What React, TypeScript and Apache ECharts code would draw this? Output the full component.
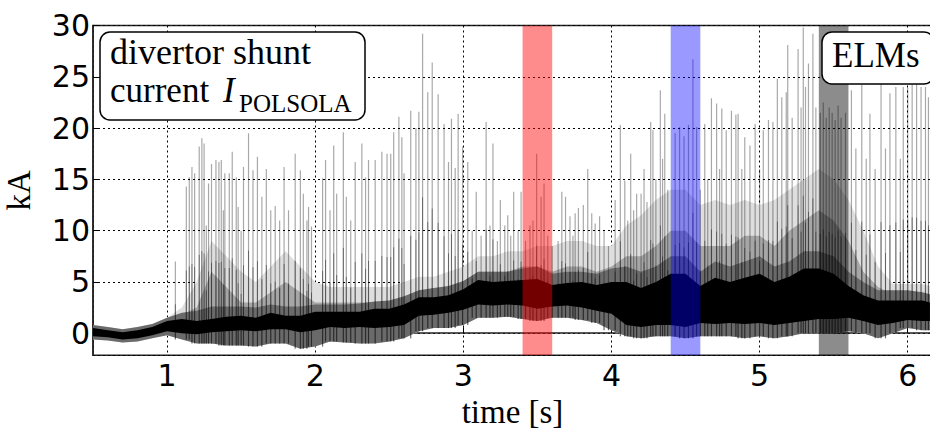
import React, { useEffect, useRef } from "react";
import * as echarts from "echarts";

// time grid for the envelope of the dense baseline signal [s]
const bandTimes = [
  0.5, 0.6, 0.7, 0.8, 0.9, 1.0, 1.1, 1.2, 1.3, 1.4, 1.5, 1.6, 1.7, 1.8, 1.9, 2.0,
  2.1, 2.2, 2.3, 2.4, 2.5, 2.6, 2.7, 2.8, 2.9, 3.0, 3.1, 3.2, 3.3, 3.4, 3.5, 3.6,
  3.7, 3.8, 3.9, 4.0, 4.1, 4.2, 4.3, 4.4, 4.5, 4.6, 4.7, 4.8, 4.9, 5.0, 5.1, 5.2,
  5.3, 5.4, 5.5, 5.6, 5.7, 5.8, 5.9, 6.0, 6.1, 6.15,
];
// dense black band (kA)
const bandLow = [
  -0.3, -0.4, -0.6, -0.5, -0.2, 0.2, 0.0, -0.1, 0.1, 0.2, 0.3, 0.2, 0.4, 0.4, 0.1, 0.3,
  0.6, 0.5, 0.6, 0.5, 0.6, 0.8, 1.7, 1.8, 2.0, 2.3, 2.8, 2.7, 2.8, 2.7, 2.4, 2.6,
  2.7, 2.5, 2.2, 1.9, 0.8, 0.6, 0.8, 0.8, 0.6, 1.0, 0.9, 1.0, 0.9, 1.0, 0.8, 1.0,
  1.2, 1.4, 1.4, 1.5, 1.2, 0.8, 1.0, 1.3, 1.2, 1.2,
];
const bandHigh = [
  0.5, 0.3, 0.1, 0.3, 0.6, 1.2, 1.4, 1.2, 1.4, 1.6, 1.7, 1.5, 2.0, 1.7, 1.7, 2.1,
  2.1, 2.1, 2.1, 2.4, 2.4, 2.8, 3.5, 3.5, 3.7, 4.3, 5.2, 5.0, 5.1, 5.2, 5.3, 4.7,
  4.9, 5.0, 4.7, 5.0, 5.0, 4.4, 5.0, 5.8, 5.8, 4.6, 5.4, 5.0, 5.4, 5.8, 5.0, 5.5,
  6.3, 6.3, 5.8, 4.6, 3.7, 3.2, 3.2, 3.2, 3.2, 3.0,
];
// grey noise fringe around the band (kA)
const outerLow = [
  -0.6, -0.7, -0.9, -0.8, -0.5, -0.2, -0.6, -1.0, -1.0, -1.2, -1.2, -1.3, -1.0, -1.0, -1.5, -1.3,
  -0.8, -0.9, -1.0, -1.0, -0.8, -0.5, 0.2, 0.5, 0.5, 0.8, 1.5, 1.5, 1.6, 1.4, 1.2, 1.5,
  1.5, 1.3, 1.0, 0.3, -0.3, -0.5, -0.3, -0.3, -0.5, -0.3, -0.3, -0.3, -0.5, -0.3, -0.5, -0.3,
  0.0, 0.0, 0.0, 0.2, 0.0, -0.5, 0.0, 0.5, 0.3, 0.3,
];
const outerHigh = [
  0.8, 0.6, 0.4, 0.6, 0.9, 1.5, 2.0, 2.2, 2.6, 2.6, 2.6, 2.5, 2.8, 2.6, 2.6, 2.8,
  2.8, 2.8, 2.9, 3.1, 3.2, 3.6, 4.2, 4.4, 4.6, 5.1, 6.0, 6.0, 6.0, 6.3, 6.5, 5.8,
  6.0, 6.0, 5.8, 6.3, 6.5, 6.0, 6.5, 7.5, 7.5, 6.0, 7.0, 6.5, 7.0, 7.5, 6.5, 7.0,
  8.0, 8.0, 7.5, 6.0, 5.0, 4.2, 4.2, 4.2, 4.0, 3.8,
];
// overlapping ELM traces: dark and light haze tops (kA)
const hazeDark = [
  0.5, 0.3, 0.1, 0.3, 0.6, 1.2, 1.8, 2.5, 6.0, 4.5, 3.0, 3.0, 4.0, 5.0, 4.0, 3.0,
  3.0, 3.0, 3.0, 3.0, 3.0, 3.5, 4.0, 4.0, 4.3, 5.0, 6.0, 6.0, 6.0, 6.5, 6.5, 6.0,
  6.5, 6.5, 6.0, 6.5, 7.5, 7.5, 8.5, 10.0, 10.0, 8.5, 8.5, 8.5, 9.5, 9.5, 8.5, 10.0,
  11.0, 12.0, 11.0, 9.0, 6.0, 4.5, 3.8, 3.8, 3.8, 3.6,
];
const hazeLight = [
  0.8, 0.6, 0.4, 0.6, 0.9, 1.5, 2.5, 5.0, 9.0, 7.5, 6.0, 5.0, 6.5, 8.0, 6.5, 5.0,
  4.5, 4.5, 4.5, 4.5, 4.5, 5.0, 5.5, 5.5, 6.0, 6.5, 7.5, 7.5, 8.0, 8.0, 8.5, 8.5,
  9.0, 9.0, 8.5, 8.5, 10.5, 11.5, 13.0, 14.0, 14.0, 12.5, 13.0, 12.5, 13.0, 12.5, 13.0, 14.0,
  15.0, 16.0, 15.0, 13.0, 10.0, 6.5, 4.8, 4.8, 4.8, 4.6,
];

// individual ELM spikes: time [s] and peak current [kA]
const spikeTimes = [
  1.056, 1.13, 1.15, 1.168, 1.186, 1.217, 1.235, 1.25, 1.265, 1.28, 1.3, 1.33, 1.35, 1.366, 1.38,
  1.39, 1.42, 1.44, 1.467, 1.48, 1.5, 1.516, 1.55, 1.58, 1.61, 1.64, 1.67, 1.7, 1.73, 1.76,
  1.79, 1.82, 1.865, 1.9, 1.92, 1.944, 1.955, 1.975, 2.05, 2.07, 2.1, 2.125, 2.145, 2.19, 2.21,
  2.24, 2.27, 2.315, 2.34, 2.36, 2.405, 2.45, 2.485, 2.51, 2.53, 2.565, 2.585, 2.6, 2.645, 2.68,
  2.7, 2.725, 2.76, 2.79, 2.83, 2.87, 2.9, 2.92, 2.945, 2.965, 2.995, 3.03, 3.06, 3.087, 3.12,
  3.154, 3.18, 3.2, 3.23, 3.25, 3.28, 3.3, 3.32, 3.34, 3.37, 3.39, 3.42, 3.45, 3.47, 3.495,
  3.525, 3.545, 3.57, 3.6, 3.64, 3.665, 3.69, 3.72, 3.74, 3.755, 3.777, 3.81, 3.84, 3.867, 3.89,
  3.92, 3.95, 3.98, 4.025, 4.06, 4.09, 4.11, 4.13, 4.15, 4.17, 4.2, 4.22, 4.24, 4.265, 4.28,
  4.3, 4.33, 4.345, 4.36, 4.38, 4.43, 4.46, 4.49, 4.52, 4.55, 4.575, 4.6, 4.63, 4.65, 4.675,
  4.71, 4.73, 4.745, 4.775, 4.81, 4.84, 4.855, 4.88, 4.9, 4.935, 4.97, 5.0, 5.025, 5.06, 5.09,
  5.12, 5.15, 5.18, 5.19, 5.22, 5.26, 5.28, 5.295, 5.31, 5.33, 5.36, 5.38, 5.41, 5.43, 5.45,
  5.47, 5.49, 5.51, 5.53, 5.55, 5.58, 5.62, 5.65, 5.69, 5.72, 5.745, 5.78, 5.82, 5.85, 5.88,
  5.92, 5.95, 5.97, 6.0, 6.03, 6.06, 6.09, 6.12, 6.14,
];
const spikePeaks = [
  7.0, 14.3, 15.2, 16.2, 15.6, 18.2, 19.0, 18.5, 10.5, 14.6, 16.5, 16.9, 16.7, 16.9, 12.0,
  15.6, 15.6, 17.7, 15.2, 12.3, 10.0, 16.2, 19.5, 15.9, 17.2, 13.3, 16.0, 12.0, 12.4, 11.0,
  16.2, 12.0, 17.5, 15.9, 13.6, 11.0, 12.3, 10.4, 15.1, 16.9, 12.0, 18.3, 13.6, 19.6, 13.3,
  11.0, 16.7, 18.5, 15.2, 16.9, 16.9, 17.7, 17.5, 17.5, 19.6, 21.1, 19.1, 15.6, 21.7, 20.0,
  21.6, 29.2, 23.5, 26.4, 23.3, 20.4, 16.7, 20.9, 16.1, 21.4, 18.2, 16.7, 10.0, 13.8, 9.5,
  20.6, 10.5, 18.5, 9.0, 13.0, 10.5, 11.5, 9.5, 13.8, 10.0, 13.8, 9.0, 10.5, 11.0, 17.5,
  13.3, 14.6, 9.5, 8.5, 9.0, 13.8, 13.3, 11.4, 9.5, 11.7, 12.2, 12.5, 16.0, 11.7, 10.7,
  11.4, 10.1, 8.5, 13.0, 20.3, 14.9, 11.0, 17.5, 12.0, 13.6, 13.6, 16.0, 12.8, 20.6, 19.8,
  15.0, 23.7, 17.0, 21.4, 14.0, 19.5, 20.1, 19.2, 20.3, 26.7, 20.1, 14.0, 20.4, 15.0, 22.9,
  22.4, 16.0, 21.9, 19.8, 21.7, 21.3, 21.4, 16.0, 19.1, 18.3, 20.4, 16.0, 19.8, 20.8, 20.6,
  24.8, 23.0, 23.5, 28.1, 21.0, 27.7, 22.0, 29.8, 24.0, 26.3, 29.2, 22.0, 21.5, 22.5, 21.0,
  22.0, 21.5, 20.8, 22.2, 21.0, 21.5, 23.7, 18.0, 24.2, 17.0, 21.4, 16.0, 24.7, 18.0, 23.4,
  24.0, 17.0, 24.0, 23.9, 24.5, 24.7, 24.0, 24.0, 23.0,
];

// highlighted time windows [s]
const spanStarts = [3.4, 4.4, 5.4];
const spanEnds = [3.6, 4.6, 5.6];
const spanColors = ["rgba(255,0,0,0.45)", "rgba(0,0,255,0.4)", "rgba(0,0,0,0.45)"];

const X_MIN = 0.5;
const X_MAX = 6.164;
const Y_MIN = -2.15;
const Y_MAX = 30;

function bandSeries(lows: number[], highs: number[], color: string, z: number) {
  return {
    type: "custom",
    z,
    silent: true,
    clip: true,
    data: bandTimes.map((t, i) => [t, lows[i], highs[i]]),
    renderItem: (params: any, api: any) => {
      if (params.dataIndex !== 0) return null;
      const pts: number[][] = [];
      for (let i = 0; i < bandTimes.length; i++) pts.push(api.coord([bandTimes[i], highs[i]]));
      for (let i = bandTimes.length - 1; i >= 0; i--) pts.push(api.coord([bandTimes[i], lows[i]]));
      return { type: "polygon", shape: { points: pts }, style: { fill: color } };
    },
  };
}

function baseAt(t: number) {
  let idx = Math.round((t - bandTimes[0]) / 0.1);
  if (idx < 0) idx = 0;
  if (idx > bandTimes.length - 1) idx = bandTimes.length - 1;
  return outerLow[idx];
}

export default function App() {
  const ref = useRef<HTMLDivElement>(null);
  useEffect(() => {
    if (!ref.current) return;
    const chart = echarts.init(ref.current, undefined, { renderer: "svg" });
    const serif = "Liberation Serif";
    const option: any = {
      animation: false,
      backgroundColor: "#fff",
      grid: {
        left: 93,
        right: -2,
        top: 25.5,
        bottom: 76.7,
        containLabel: false,
        outerBoundsMode: "none",
        show: true,
        borderColor: "#222",
        borderWidth: 1.5,
        backgroundColor: "transparent",
      },
      xAxis: {
        type: "value",
        min: X_MIN,
        max: X_MAX,
        splitNumber: 6,
        name: "time [s]",
        nameLocation: "middle",
        nameGap: 39,
        nameTextStyle: { fontFamily: serif, fontSize: 33, color: "#000" },
        axisLine: { show: true, lineStyle: { color: "#222", width: 1.5 } },
        axisTick: { show: true, inside: true, length: 6, lineStyle: { color: "#000" } },
        axisLabel: {
          fontFamily: "DejaVu Sans",
          fontSize: 30,
          color: "#000",
          margin: 5,
          showMinLabel: false,
          showMaxLabel: false,
        },
        splitLine: { show: true, lineStyle: { color: "#000", type: [2, 3], width: 1 } },
      },
      yAxis: {
        type: "value",
        min: Y_MIN,
        max: Y_MAX,
        splitNumber: 6,
        name: "kA",
        nameLocation: "middle",
        nameRotate: 90,
        nameGap: 58,
        nameTextStyle: { fontFamily: serif, fontSize: 33, color: "#000" },
        axisLine: { show: true, lineStyle: { color: "#222", width: 1.5 } },
        axisTick: { show: true, inside: true, length: 6, lineStyle: { color: "#000" } },
        axisLabel: {
          fontFamily: "DejaVu Sans",
          fontSize: 30,
          color: "#000",
          margin: 3,
          showMinLabel: false,
        },
        splitLine: { show: true, lineStyle: { color: "#000", type: [2, 3], width: 1 } },
      },
      series: [
        bandSeries(outerLow, hazeLight, "#dedede", 1),
        bandSeries(bandLow, hazeDark, "#a6a6a6", 2),
        bandSeries(outerLow, outerHigh, "#6a6a6a", 3),
        bandSeries(bandLow, bandHigh, "#000000", 4),
        {
          type: "custom",
          z: 5,
          silent: true,
          clip: true,
          data: spikeTimes.map((t, i) => [t, baseAt(t), spikePeaks[i]]),
          renderItem: (params: any, api: any) => {
            const t = api.value(0);
            const lo = api.value(1);
            const hi = api.value(2);
            const p0 = api.coord([t, lo]);
            const p1 = api.coord([t, hi]);
            const pm = api.coord([t, lo + (hi - lo) * 0.45]);
            return {
              type: "group",
              children: [
                {
                  type: "line",
                  shape: { x1: p0[0], y1: p0[1], x2: p1[0], y2: p1[1] },
                  style: { stroke: "rgba(0,0,0,0.34)", lineWidth: 1.2 },
                },
                {
                  type: "line",
                  shape: { x1: p0[0], y1: p0[1], x2: pm[0], y2: pm[1] },
                  style: { stroke: "rgba(0,0,0,0.4)", lineWidth: 1 },
                },
              ],
            };
          },
        },
        {
          type: "custom",
          z: 8,
          silent: true,
          clip: true,
          data: spanStarts.map((s, i) => [s, spanEnds[i]]),
          renderItem: (params: any, api: any) => {
            const a = api.coord([api.value(0), Y_MAX]);
            const b = api.coord([api.value(1), Y_MIN]);
            return {
              type: "rect",
              shape: { x: a[0], y: a[1], width: b[0] - a[0], height: b[1] - a[1] },
              style: { fill: spanColors[params.dataIndex] },
            };
          },
        },
      ],
      graphic: [
        {
          type: "rect",
          z: 100,
          shape: { x: 100, y: 32, width: 265, height: 88, r: 10 },
          style: { fill: "#fff", stroke: "#000", lineWidth: 1.5 },
        },
        {
          type: "text",
          z: 101,
          x: 110,
          y: 52,
          style: { text: "divertor shunt", fontFamily: serif, fontSize: 36, lineHeight: 30, fill: "#000", verticalAlign: "middle" },
        },
        {
          type: "text",
          z: 101,
          x: 110,
          y: 90,
          style: { text: "current", fontFamily: serif, fontSize: 35, lineHeight: 30, fill: "#000", verticalAlign: "middle" },
        },
        {
          type: "text",
          z: 101,
          x: 223,
          y: 90,
          style: { text: "I", fontFamily: serif, fontStyle: "italic", fontSize: 35, lineHeight: 24, fill: "#000", verticalAlign: "middle" },
        },
        {
          type: "text",
          z: 101,
          x: 239,
          y: 103,
          style: { text: "POLSOLA", fontFamily: serif, fontSize: 25, lineHeight: 18, fill: "#000", verticalAlign: "middle" },
        },
        {
          type: "rect",
          z: 100,
          shape: { x: 822, y: 32, width: 112, height: 52, r: 10 },
          style: { fill: "#fff", stroke: "#000", lineWidth: 1.5 },
        },
        {
          type: "text",
          z: 101,
          x: 832,
          y: 55.5,
          style: { text: "ELMs", fontFamily: serif, fontSize: 35, fill: "#000", verticalAlign: "middle" },
        },
      ],
    };
    chart.setOption(option);
    return () => chart.dispose();
  }, []);
  return (
    <div
      ref={ref}
      style={{ position: "fixed", left: 0, top: 0, width: 930, height: 432 }}
    />
  );
}
